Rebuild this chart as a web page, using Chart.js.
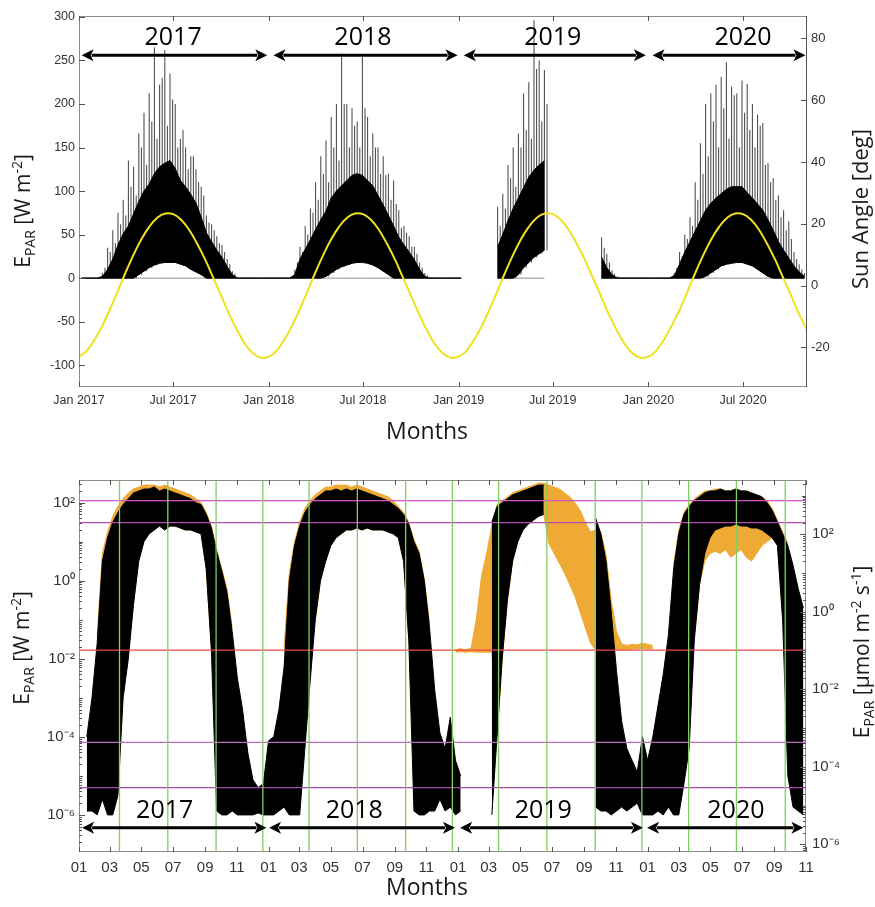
<!DOCTYPE html>
<html>
<head>
<meta charset="utf-8">
<script src="https://cdn.jsdelivr.net/npm/chart.js@4"></script>
<style>
body{margin:0;background:#fff}
.box{position:absolute;left:0;width:875px}
</style>
</head>
<body>
<div class="box" style="top:0;height:450px"><canvas id="topChart"></canvas></div>
<div class="box" style="top:450px;height:457px"><canvas id="botChart"></canvas></div>
<script>
// ---- data, 10-day bins from 1 Jan 2017 (bin i centred on day 10*i+5) ----
// top panel: E_PAR [W m-2], low edge / dense core top / spike tops
const topLo = [
  0,0,0,0,0,0,0,0,0,0, 0,4,8,12,15,17,18,18,18,16, 14,10,7,4,0,0,0,0,0,0,
  0,0,0,0,0,0,0,0,0,0,0,
  0,0,0,0,0,0,2,6,10,13, 15,17,18,18,17,15,12,8,4,0, 0,0,0,0,0,0,
  0,0,0,0,0,0,0,
  null,null,null,null,null,null,
  0,0,0,0,4,12,18,24,28,32,
  null,null,null,null,null,null,null,null,null,null,
  0,0,0,0,
  0,0,0,0,0,0,0,0,0,0,
  0,0,0,0,0,0,2,6,10,14, 16,17,18,18,16,14,10,6,2,0, 0,0,0,0,0,0
];
const topMid = [
  0,0,0,0,2,10,22,38,51,60, 74,88,100,108,120,128,132,135,126,112, 105,96,86,70,52,42,32,24,13,4,
  0,0,0,0,0,0,0,0,0,0,0,
  4,22,33,44,56,67,77,92,100,106, 112,118,120,118,112,106,95,84,72,60, 47,38,30,21,10,2,
  0,0,0,0,0,0,0,
  null,null,null,null,null,null,
  36,50,66,80,92,104,116,124,130,135,
  null,null,null,null,null,null,null,null,null,null,
  24,12,4,0,
  0,0,0,0,0,0,0,0,0,0,
  3,16,30,42,54,66,78,86,92,97, 102,105,105,105,98,92,85,78,67,55, 42,32,23,14,7,2
];
// spike tops at bin centres
const topPeak = [
  0,0,0,0,6,35,55,75,90,135, 128,166,190,212,265,222,262,235,200,160, 150,140,125,105,72,62,48,38,22,8,
  0,0,0,0,0,0,0,0,0,0,0,
  10,36,60,80,110,140,158,185,200,258, 200,195,180,254,185,166,150,140,120,112, 78,60,48,36,18,6,
  0,0,0,0,0,0,0,
  null,null,null,null,null,null,
  82,97,130,150,166,212,225,296,250,239,
  null,null,null,null,null,null,null,null,null,null,
  47,28,9,2,
  0,0,0,0,0,0,0,0,0,0,
  6,30,50,70,110,155,200,212,222,231, 248,220,212,227,223,200,188,178,132,115, 95,78,65,30,16,6
];
// spike tops at bin ends
const topPeakB = [
  0,0,0,0,12,30,40,62,72,105, 95,150,130,180,160,230,175,205,150,170, 125,140,110,95,64,55,40,30,16,5,
  0,0,0,0,0,0,0,0,0,0,0,
  18,30,50,75,90,120,110,150,135,200, 150,175,150,195,140,150,120,118,90,85, 58,52,36,28,12,3,
  0,0,0,0,0,0,0,
  null,null,null,null,null,null,
  60,80,115,105,150,170,160,240,180,200,
  null,null,null,null,null,null,null,null,null,null,
  35,18,5,1,
  0,0,0,0,0,0,0,0,0,0,
  12,25,45,60,90,120,140,180,150,195, 160,210,150,190,170,150,175,130,110,90, 70,55,45,22,10,3
];

// sun angle [deg], days since 1 Jan 2017
const sunDays = [
  0,15,31,45,59,74,90,105,120,135,151,166,181,196,212,227,243,258,273,288,304,319,334,349,
  365,380,396,410,424,439,455,470,485,500,516,531,546,561,577,592,608,623,638,653,669,684,699,714,
  730,745,761,775,789,804,820,835,850,865,881,896,911,926,942,957,973,988,1003,1018,1034,1049,1064,1079,
  1095,1110,1126,1140,1155,1170,1186,1201,1216,1231,1247,1262,1277,1292,1308,1323,1339,1354,1369,1384,1400
];
const sunAngle = [
  -23.0,-21.1,-17.2,-12.9,-7.9,-2.0,4.4,10.0,15.0,19.0,22.0,23.3,23.1,21.4,18.0,13.6,8.3,2.6,-3.1,-8.9,-14.4,-18.8,-21.8,-23.3,
  -23.0,-21.1,-17.2,-12.9,-7.9,-2.0,4.4,10.0,15.0,19.0,22.0,23.3,23.1,21.4,18.0,13.6,8.3,2.6,-3.1,-8.9,-14.4,-18.8,-21.8,-23.3,
  -23.0,-21.1,-17.2,-12.9,-7.9,-2.0,4.4,10.0,15.0,19.0,22.0,23.3,23.1,21.4,18.0,13.6,8.3,2.6,-3.1,-8.9,-14.4,-18.8,-21.8,-23.3,
  -23.0,-21.1,-17.2,-12.9,-7.9,-2.0,4.4,10.0,15.0,19.0,22.0,23.3,23.1,21.4,18.0,13.6,8.3,2.6,-3.1,-8.9,-14.4
];

// bottom panel: log10 of E_PAR [W m-2], measured (black) and reference (orange)
const blackLoExp = [
  null,
  -5.9,-5.9,-6.0,-5.6,-6.0,-6.0,-5.5,-3.0,-2.0,-0.6,
  0.5,1.0,1.2,1.3,1.4,1.3,1.4,1.4,1.35,1.3,
  1.3,1.25,1.2,0.3,-1.8,-5.9,-6.0,-6.0,-5.9,-6.0,
  -6.0,-6.0,-6.0,-5.95,-6.0,-6.0,-6.0,-5.9,-5.8,-6.0,
  -6.0,-6.0,-4.3,-2.6,-1.0,0.0,0.5,0.9,1.1,1.2,
  1.3,1.3,1.35,1.3,1.35,1.3,1.3,1.3,1.25,1.2,
  1.1,0.5,-1.5,-5.9,-6.0,-6.0,-5.9,-5.9,-5.6,-5.9,
  -5.8,-6.0,-5.9,null,null,null,null,null,-6.0,-4.0,
  -2.0,-0.5,0.5,1.0,1.3,1.45,1.55,1.65,1.7,null,
  null,null,null,null,null,null,null,null,-5.8,-5.9,
  -5.9,-6.0,-5.9,-5.8,-5.9,-5.8,-5.7,-6.0,-6.0,-6.0,
  -5.9,-6.0,-5.8,-6.0,-6.0,-5.2,-4.3,-1.5,-0.1,0.7,
  1.1,1.3,1.35,1.4,1.4,1.45,1.4,1.4,1.35,1.35,
  1.3,1.2,1.1,0.9,-1.0,-5.0,-5.8,-5.9,-6.0
];
const blackHiExp = [
  null,
  -4.0,-3.0,-1.6,0.5,1.1,1.5,1.75,1.95,2.1,2.25,
  2.3,2.35,2.35,2.4,2.3,2.35,2.3,2.25,2.2,2.15,
  2.1,2.0,1.95,1.7,1.35,0.75,0.25,-0.3,-1.3,-2.5,
  -3.3,-4.4,-5.1,-5.3,-5.2,-4.1,-4.0,-3.3,-2.2,0.0,
  0.9,1.4,1.75,1.95,2.1,2.2,2.3,2.3,2.35,2.3,
  2.35,2.3,2.35,2.3,2.25,2.2,2.15,2.1,2.05,1.95,
  1.85,1.7,1.45,1.0,0.7,0.0,-1.2,-2.8,-3.9,-4.3,
  -3.5,-4.6,-5.0,null,null,null,null,null,1.5,1.9,
  2.0,2.1,2.2,2.25,2.3,2.35,2.4,2.45,2.45,null,
  null,null,null,null,null,null,null,null,1.6,1.2,
  0.5,-0.8,-2.3,-3.6,-4.3,-4.6,-4.9,-4.0,-4.6,-4.0,
  -3.2,-2.4,-1.4,0.3,1.2,1.7,1.9,2.05,2.15,2.25,
  2.3,2.3,2.35,2.3,2.3,2.35,2.3,2.3,2.25,2.2,
  2.15,2.0,1.8,1.5,1.2,0.9,0.4,-0.2,-0.7
];
const orangeLoExp = [
  null,null,null,
  -1.8,-1.8,-1.8,-1.8,-1.8,-1.8,-1.8,-0.6,0.5,1.0,
  1.2,1.3,1.4,1.3,1.4,1.4,1.35,1.3,1.3,1.25,
  1.2,0.3,-1.8,-1.8,-1.8,-1.8,-1.8,
  null,null,null,null,null,null,null,null,null,
  -1.8,-1.8,-1.8,-1.8,-1.8,-1.8,-1.0,0.0,0.5,0.9,
  1.1,1.2,1.3,1.3,1.35,1.3,1.35,1.3,1.3,1.3,
  1.25,1.2,1.1,0.5,-1.5,-1.8,-1.8,-1.8,-1.8,
  null,null,null,null,
  -1.83,-1.82,-1.83,-1.82,-1.83,-1.83,-1.83,-1.83,-4.0,-2.0,
  -0.5,0.5,1.0,1.3,1.45,1.55,1.65,1.7,0.95,0.7,
  0.45,0.2,-0.1,-0.4,-0.8,-1.2,-1.6,-1.78,-1.78,-1.78,
  -1.78,-1.76,-1.76,-1.76,-1.75,-1.74,-1.74,-1.74,-1.75,
  null,null,null,
  -1.8,-1.8,-1.8,-1.8,-1.5,-0.1,0.5,0.7,0.75,0.7,
  0.8,0.6,0.7,0.8,0.6,0.5,0.7,0.9,1.0,1.1,
  0.9,-1.0,-1.8,
  null,null,null
];
const orangeHiExp = [
  null,null,null,
  -1.4,0.7,1.25,1.65,1.9,2.1,2.25,2.35,2.4,2.45,
  2.45,2.45,2.4,2.45,2.4,2.35,2.3,2.25,2.2,2.1,
  2.0,1.75,1.4,0.8,0.3,-0.2,-1.2,
  null,null,null,null,null,null,null,null,null,
  -1.7,0.2,1.0,1.5,1.85,2.05,2.2,2.3,2.4,2.4,
  2.45,2.45,2.45,2.4,2.45,2.4,2.35,2.3,2.25,2.2,
  2.15,2.05,1.9,1.75,1.5,1.05,0.75,0.05,-1.1,
  null,null,null,null,
  -1.77,-1.74,-1.77,-1.73,-1.0,0.1,0.7,1.4,1.95,2.05,
  2.15,2.25,2.3,2.35,2.4,2.45,2.5,2.5,2.45,2.4,
  2.35,2.25,2.15,2.0,1.8,1.5,1.25,1.3,1.25,0.65,
  -0.5,-1.3,-1.62,-1.66,-1.63,-1.64,-1.6,-1.63,-1.66,
  null,null,null,
  0.4,1.3,1.75,1.95,2.1,2.2,2.3,2.3,2.35,2.35,
  2.3,2.3,2.35,2.3,2.3,2.25,2.2,2.15,2.05,1.85,
  1.55,1.25,0.95,
  null,null,null
];

// reference levels (log10 W m-2) and solstice / equinox days
const refLineExp = [2.05, 1.49, -1.78, -4.14, -5.30];
const refLineColor = ['#d654c2', '#b24ca9', '#ef4646', '#b96cba', '#a64aa8'];
const seasonDays = [78,171,264,354, 443,536,629,719, 808,901,994,1084, 1174,1266,1360];

// axes
const topTickDays = [0,181,365,546,730,911,1095,1277];
const topTickLabels = ['Jan 2017','Jul 2017','Jan 2018','Jul 2018','Jan 2019','Jul 2019','Jan 2020','Jul 2020'];
const topYTicks = [-100,-50,0,50,100,150,200,250,300];
const sunTicks = [-20,0,20,40,60,80];
const botTickDays = [0,59,120,181,243,304, 365,424,485,546,608,669, 730,789,850,911,973,1034, 1095,1155,1216,1277,1339,1400];
const botTickLabels = ['01','03','05','07','09','11','01','03','05','07','09','11','01','03','05','07','09','11','01','03','05','07','09','11'];
const botYExp = [-6,-4,-2,0,2];
const botYLabels = ['10⁻⁶','10⁻⁴','10⁻²','10⁰','10²'];

// year arrows
const yearNames = ['2017','2018','2019','2020'];
const topArrowFrom = [5,374,740,1103], topArrowTo = [362,728,1090,1397], topYearAt = [181,546,911,1277];
const botArrowFrom = [6,366,734,1094], botArrowTo = [361,724,1086,1395], botYearAt = [165,530,894,1265];

Chart.defaults.font.family = '"Liberation Sans", Arial, sans-serif';
Chart.defaults.color = '#333';

const binDays = topLo.map((_, i) => i * 10 + 5);
const lin = v => v, pow10 = e => Math.pow(10, e);

function spikeBars(lo, hi, shift) {
  const out = [];
  binDays.forEach((d, i) => {
    if (lo[i] == null || hi[i] == null || hi[i] <= lo[i]) return;
    out.push({x: d + shift, y: [lo[i], hi[i]]});
  });
  return out;
}
// filled band between two series (upper fills down to the next dataset)
function band(lo, hi, f, color, order, yAxisID) {
  const pts = arr => binDays.map((d, i) => ({x: d, y: arr[i] == null ? null : f(arr[i])}));
  return [
    {type:'line', data: pts(hi), borderColor: color, backgroundColor: color, borderWidth: 1,
     fill: '+1', pointRadius: 0, spanGaps: false, order, yAxisID},
    {type:'line', data: pts(lo), borderColor: color, borderWidth: 1,
     fill: false, pointRadius: 0, spanGaps: false, order, yAxisID}
  ];
}

function richText(ctx, cx, cy, segs, rot) {
  ctx.save();
  ctx.translate(cx, cy);
  if (rot) ctx.rotate(-Math.PI / 2);
  let w = 0;
  segs.forEach(s => { ctx.font = s.size + 'px "Open Sans"'; w += ctx.measureText(s.t).width; });
  let x = -w / 2;
  ctx.fillStyle = '#1a1a1a';
  ctx.textAlign = 'left';
  ctx.textBaseline = 'alphabetic';
  segs.forEach(s => {
    ctx.font = s.size + 'px "Open Sans"';
    ctx.fillText(s.t, x, 7 + (s.dy || 0));
    x += ctx.measureText(s.t).width;
  });
  ctx.restore();
}

function arrow(ctx, x1, x2, y) {
  const h = 12, w = 6;
  ctx.lineWidth = 3;
  ctx.strokeStyle = '#000';
  ctx.fillStyle = '#000';
  ctx.beginPath(); ctx.moveTo(x1 + h - 2, y); ctx.lineTo(x2 - h + 2, y); ctx.stroke();
  ctx.beginPath(); ctx.moveTo(x1, y); ctx.lineTo(x1 + h, y - w); ctx.lineTo(x1 + h - 3, y); ctx.lineTo(x1 + h, y + w); ctx.closePath(); ctx.fill();
  ctx.beginPath(); ctx.moveTo(x2, y); ctx.lineTo(x2 - h, y - w); ctx.lineTo(x2 - h + 3, y); ctx.lineTo(x2 - h, y + w); ctx.closePath(); ctx.fill();
}

const decor = {
  id: 'decor',
  afterDatasetsDraw(chart, args, o) {
    if (!o.vlines) return;
    const {ctx, chartArea: a, scales: {x}} = chart;
    ctx.save();
    ctx.strokeStyle = '#7fcf63';
    ctx.lineWidth = 1.3;
    o.vlines.forEach(d => {
      const p = x.getPixelForValue(d);
      ctx.beginPath(); ctx.moveTo(p, a.top); ctx.lineTo(p, a.bottom); ctx.stroke();
    });
    ctx.restore();
  },
  afterDraw(chart, args, o) {
    const {ctx, chartArea: a, scales} = chart;
    const x = scales.x;
    const seg = (x1, y1, x2, y2) => { ctx.beginPath(); ctx.moveTo(x1, y1); ctx.lineTo(x2, y2); ctx.stroke(); };
    ctx.save();
    ctx.lineWidth = 1;
    ctx.strokeStyle = o.frame;
    ctx.strokeRect(a.left + 0.5, a.top + 0.5, a.right - a.left - 1, a.bottom - a.top - 1);
    if (o.rightColor) { ctx.strokeStyle = o.rightColor; seg(a.right - 0.5, a.top, a.right - 0.5, a.bottom); }
    // inward tick marks
    ctx.strokeStyle = '#555';
    x.ticks.forEach(t => {
      const p = Math.round(x.getPixelForValue(t.value)) + 0.5;
      seg(p, a.bottom, p, a.bottom - 5);
      seg(p, a.top, p, a.top + 5);
    });
    [[scales.y, a.left, 1], [scales.y2, a.right, -1]].forEach(([s, base, dir]) => {
      s.ticks.forEach(t => {
        const p = Math.round(s.getPixelForValue(t.value)) + 0.5;
        seg(base, p, base + dir * 6, p);
      });
      if (s.type === 'logarithmic') {
        const e0 = Math.floor(Math.log10(s.min)), e1 = Math.ceil(Math.log10(s.max));
        for (let e = e0; e <= e1; e++) {
          for (let k = 1; k <= 9; k++) {
            const v = k * Math.pow(10, e);
            if (v < s.min || v > s.max) continue;
            const p = Math.round(s.getPixelForValue(v)) + 0.5;
            seg(base, p, base + dir * (k === 1 ? 4 : 3), p);
          }
        }
      }
    });
    // year arrows and labels
    const y = scales.y, ar = o.arrows;
    ar.from.forEach((d, i) => {
      arrow(ctx, x.getPixelForValue(d), x.getPixelForValue(ar.to[i]), y.getPixelForValue(ar.y));
      ctx.font = '25px "Open Sans"';
      ctx.fillStyle = '#000';
      ctx.textAlign = 'center';
      ctx.textBaseline = 'middle';
      ctx.fillText(yearNames[i], x.getPixelForValue(ar.at[i]), y.getPixelForValue(ar.labelY));
    });
    o.titles.forEach(t => richText(ctx, t.x, t.y, t.segs, t.rot));
    ctx.restore();
  }
};

const eparW = [{t:'E',size:21},{t:'PAR',size:14,dy:5},{t:' [W m',size:21},{t:'-2',size:14,dy:-8},{t:']',size:21}];
const eparMol = [{t:'E',size:21},{t:'PAR',size:14,dy:5},{t:' [µmol m',size:21},{t:'-2',size:14,dy:-8},{t:' s',size:21},{t:'-1',size:14,dy:-8},{t:']',size:21}];

// ---- top panel ----
new Chart(document.getElementById('topChart'), {
  type: 'bar',
  data: {
    datasets: [
      {type:'line', data: binDays.map((d, i) => ({x: d, y: topLo[i] == null ? null : 0})),
       borderColor:'#8e8e8e', borderWidth:1, pointRadius:0, spanGaps:false, order:5},
      {data: spikeBars(topLo, topPeak, 0), backgroundColor:'#474747', borderWidth:0,
       barPercentage:0.4, categoryPercentage:1, grouped:false, order:4},
      {data: spikeBars(topLo, topPeakB, 5), backgroundColor:'#474747', borderWidth:0,
       barPercentage:0.4, categoryPercentage:1, grouped:false, order:4}
    ].concat(band(topLo, topMid, lin, '#000', 2, 'y'), [
      {type:'line', yAxisID:'y2', data: sunDays.map((d, i) => ({x: d, y: sunAngle[i]})),
       borderColor:'#f0e11c', borderWidth:2, pointRadius:0, tension:0.4, fill:false, order:1}
    ])
  },
  options: {
    responsive: true, maintainAspectRatio: false, animation: false, devicePixelRatio: 1,
    layout: {padding: {top: 16}},
    plugins: {
      legend: {display: false}, tooltip: {enabled: false},
      decor: {
        frame: '#8c8c8c', rightColor: '#555',
        arrows: {from: topArrowFrom, to: topArrowTo, at: topYearAt, y: 256, labelY: 276},
        titles: [
          {x: 23, y: 211, segs: eparW, rot: true},
          {x: 861, y: 209, segs: [{t:'Sun Angle [deg]', size:22}], rot: true},
          {x: 427, y: 432, segs: [{t:'Months', size:23}]}
        ]
      }
    },
    scales: {
      x: {type:'linear', min:0, max:1400, offset:false,
          afterBuildTicks: s => { s.ticks = topTickDays.map(v => ({value: v})); },
          afterFit: s => { s.height = 63; },
          grid: {display:false, drawTicks:false}, border: {display:false},
          ticks: {autoSkip:false, maxRotation:0, padding:6, font:{size:12.5}, callback: (v, i) => topTickLabels[i]}},
      y: {type:'linear', position:'left', min:-125, max:301,
          afterBuildTicks: s => { s.ticks = topYTicks.map(v => ({value: v})); },
          afterFit: s => { s.width = 79; },
          grid: {display:false, drawTicks:false}, border: {display:false},
          ticks: {padding:4, font:{size:12.5}}},
      y2: {type:'linear', position:'right', min:-32.8, max:87.2,
           afterBuildTicks: s => { s.ticks = sunTicks.map(v => ({value: v})); },
           afterFit: s => { s.width = 68; },
           grid: {display:false, drawTicks:false}, border: {display:false},
           ticks: {padding:4, font:{size:13}}}
    }
  },
  plugins: [decor]
});

// ---- bottom panel ----
new Chart(document.getElementById('botChart'), {
  type: 'line',
  data: {
    datasets: [].concat(
      band(orangeLoExp, orangeHiExp, pow10, '#efa935', 4, 'y'),
      band(blackLoExp, blackHiExp, pow10, '#000', 3, 'y'),
      refLineExp.map((e, i) => ({
        type:'line', data:[{x:0, y:pow10(e)}, {x:1400, y:pow10(e)}], fill:false,
        borderColor: refLineColor[i], borderWidth:1.3, pointRadius:0, order:1
      }))
    )
  },
  options: {
    responsive: true, maintainAspectRatio: false, animation: false, devicePixelRatio: 1,
    layout: {padding: {top: 30}},
    plugins: {
      legend: {display: false}, tooltip: {enabled: false},
      decor: {
        frame: '#8c8c8c', vlines: seasonDays,
        arrows: {from: botArrowFrom, to: botArrowTo, at: botYearAt, y: pow10(-6.33), labelY: pow10(-5.9)},
        titles: [
          {x: 22, y: 198, segs: eparW, rot: true},
          {x: 862, y: 202, segs: eparMol, rot: true},
          {x: 427, y: 438, segs: [{t:'Months', size:23}]}
        ]
      }
    },
    scales: {
      x: {type:'linear', min:0, max:1400, offset:false,
          afterBuildTicks: s => { s.ticks = botTickDays.map(v => ({value: v})); },
          afterFit: s => { s.height = 55; },
          grid: {display:false, drawTicks:false}, border: {display:false},
          ticks: {autoSkip:false, maxRotation:0, padding:7, font:{size:15}, callback: (v, i) => botTickLabels[i]}},
      y: {type:'logarithmic', position:'left', min:pow10(-6.95), max:pow10(2.58),
          afterBuildTicks: s => { s.ticks = botYExp.map(e => ({value: pow10(e)})); },
          afterFit: s => { s.width = 79; },
          grid: {display:false, drawTicks:false}, border: {display:false},
          ticks: {padding:4, font:{size:15}, callback: (v, i) => botYLabels[i]}},
      y2: {type:'logarithmic', position:'right', min:pow10(-6.2), max:pow10(3.4),
           afterBuildTicks: s => { s.ticks = botYExp.map(e => ({value: pow10(e)})); },
           afterFit: s => { s.width = 69; },
           grid: {display:false, drawTicks:false}, border: {display:false},
           ticks: {padding:6, font:{size:15}, callback: (v, i) => botYLabels[i]}}
    }
  },
  plugins: [decor]
});
</script>
</body>
</html>
